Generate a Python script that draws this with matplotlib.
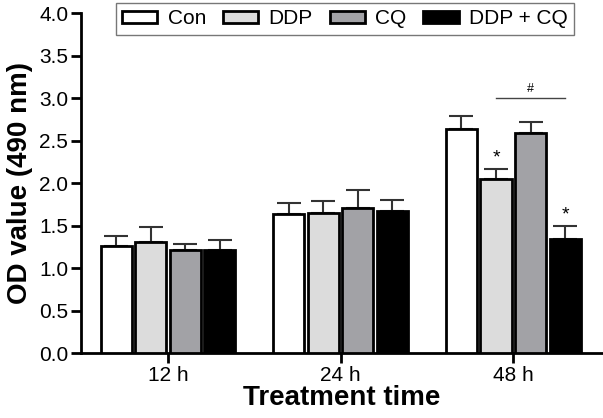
import numpy as np
import matplotlib
matplotlib.use('Agg')
import matplotlib.pyplot as plt

plt.rcParams['font.family'] = ['Liberation Sans', 'DejaVu Sans']

times = ['12 h', '24 h', '48 h']
groups = ['Con', 'DDP', 'CQ', 'DDP + CQ']
con = [1.26, 1.64, 2.64]
ddp = [1.31, 1.65, 2.05]
cq = [1.21, 1.71, 2.59]
combo = [1.21, 1.67, 1.35]
con_err = [0.12, 0.13, 0.15]
ddp_err = [0.17, 0.14, 0.12]
cq_err = [0.08, 0.21, 0.13]
combo_err = [0.12, 0.13, 0.15]
colors = ['white', '#dcdcdc', '#a2a2a6', 'black']

values = [con, ddp, cq, combo]
errors = [con_err, ddp_err, cq_err, combo_err]

fig = plt.figure(figsize=(6.03, 4.18), dpi=100)
ax = fig.add_axes([0.134, 0.155, 0.866, 0.813])

x = np.arange(len(times))
w = 0.2
for i in range(4):
    pos = x + (i - 1.5) * w
    ax.bar(pos, values[i], w * 0.9, color=colors[i], edgecolor='black',
           linewidth=2, label=groups[i], zorder=3)
    ax.errorbar(pos, values[i], yerr=[np.zeros(3), errors[i]], fmt='none',
                ecolor='#333333', elinewidth=1.5, capsize=8.5, capthick=1.5, zorder=2)

# significance marks
ax.text(x[2] - 0.5 * w, ddp[2] + ddp_err[2] + 0.07, '*', ha='center', fontsize=14)
ax.text(x[2] + 1.5 * w, combo[2] + combo_err[2] + 0.07, '*', ha='center', fontsize=14)
ax.plot([x[2] - 0.5 * w, x[2] + 1.5 * w], [3.0, 3.0], color='#444444', lw=1)
ax.text(x[2] + 0.5 * w, 3.07, '#', ha='center', fontsize=9)

ax.set_xlim(-0.506, 2.52)
ax.set_ylim(0, 4.0)
ax.set_yticks(np.arange(0, 4.01, 0.5))
ax.set_xticks(x)
ax.set_xticklabels(times)
ax.tick_params(axis='both', labelsize=15, width=2, length=7, direction='out', pad=2)
for s in ['top', 'right']:
    ax.spines[s].set_visible(False)
for s in ['left', 'bottom']:
    ax.spines[s].set_linewidth(2)

ax.set_ylabel('OD value (490 nm)', fontsize=20, fontweight='bold', labelpad=4)
ax.set_xlabel('Treatment time', fontsize=20, fontweight='bold', labelpad=0)

leg = ax.legend(loc='upper left', bbox_to_anchor=(0.067, 1.03), ncol=4, fontsize=15,
                frameon=True, fancybox=False, handlelength=1.7, handleheight=0.45,
                handletextpad=0.5, columnspacing=0.8, borderpad=0.3, borderaxespad=0)
leg.get_frame().set_edgecolor('#555555')
leg.get_frame().set_linewidth(1)

plt.savefig('out.png', dpi=100)
